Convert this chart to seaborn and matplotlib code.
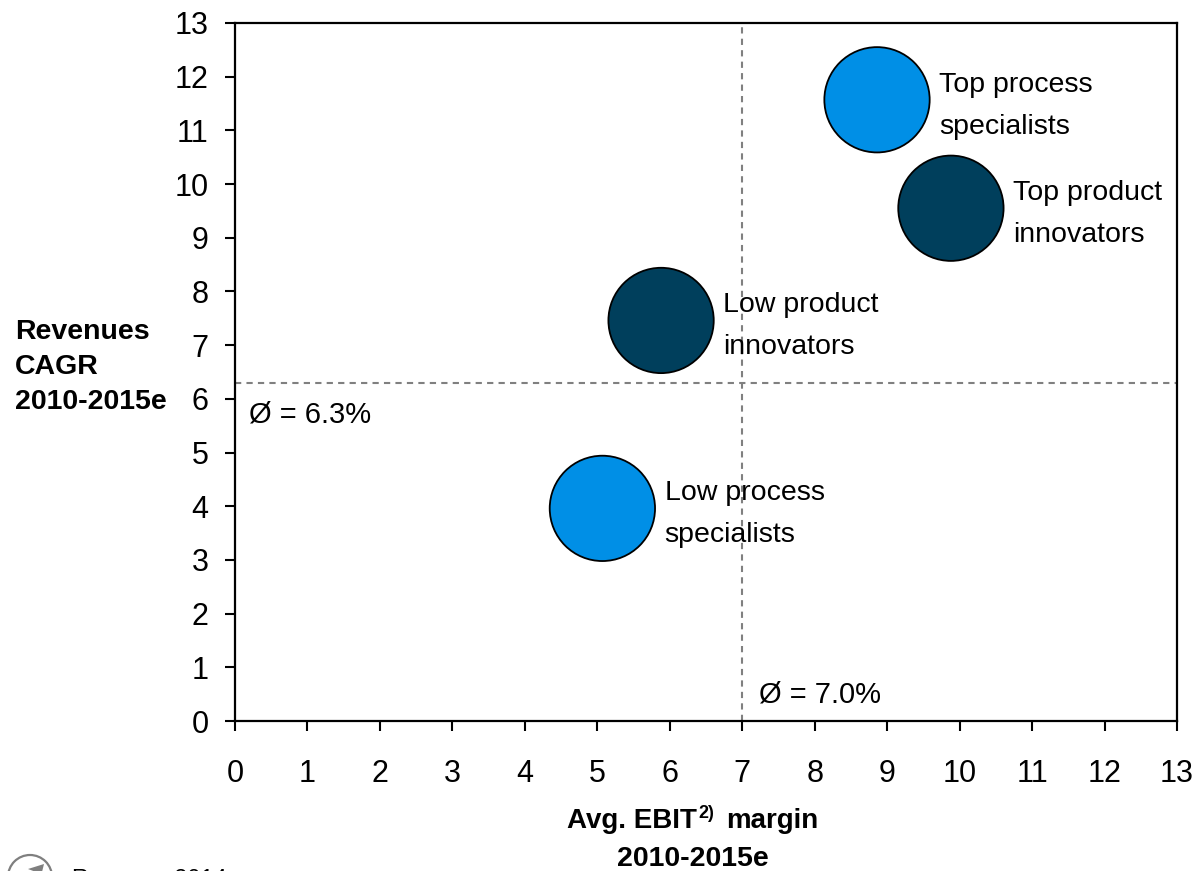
import matplotlib
matplotlib.use("Agg")
import matplotlib.pyplot as plt
import matplotlib.patches as mp
import pandas as pd
import seaborn as sns

names = ["Top process\nspecialists", "Top product\ninnovators", "Low product\ninnovators", "Low process\nspecialists"]
ebit = [8.86, 9.88, 5.88, 5.07]
cagr = [11.57, 9.55, 7.46, 3.96]
groups = ["process", "product", "product", "process"]
ticks = list(range(14))
avg_x = 7.0
avg_y = 6.3
palette = {"process": "#008FE6", "product": "#003F5C"}

sns.set_theme(style="white")
plt.rcParams["font.family"] = ["Liberation Sans", "DejaVu Sans"]
plt.rcParams["text.color"] = "black"
plt.rcParams["xtick.labelcolor"] = "black"
plt.rcParams["ytick.labelcolor"] = "black"
W, H = 1192, 871
fig = plt.figure(figsize=(W/100, H/100), dpi=100)
ax = fig.add_axes([235/W, 1-721/H, (1177-235)/W, (721-23)/H])
df = pd.DataFrame({"x": ebit, "y": cagr, "g": groups})
sns.scatterplot(data=df, x="x", y="y", hue="g", palette=palette, s=5750, edgecolor="black", linewidth=1.3, legend=False, ax=ax, zorder=3, clip_on=False)
ax.set_xlim(0, 13); ax.set_ylim(0, 13)
ax.set_xticks(ticks); ax.set_yticks(ticks)
ax.tick_params(axis="both", length=7, width=1.5, color="black", direction="out", labelsize=22, bottom=True, left=True, top=False, right=False)
ax.tick_params(axis="x", pad=20)
ax.tick_params(axis="y", pad=12)
for s in ax.spines.values():
    s.set_visible(True); s.set_color("black"); s.set_linewidth(1.6)
ax.set_xlabel(""); ax.set_ylabel("")
ax.axvline(avg_x, color="#808080", ls=(0, (3, 2.5)), lw=1.5, zorder=1)
ax.axhline(avg_y, color="#808080", ls=(0, (3, 2.5)), lw=1.5, zorder=1)
for n, x, y in zip(names, ebit, cagr):
    ax.text(x + 0.86, y - 0.11, n, fontsize=20.5, va="center", ha="left", linespacing=1.8, zorder=4)
ax.text(0.2, 5.7, "Ø = 6.3%", fontsize=21, va="center")
ax.text(7.23, 0.5, "Ø = 7.0%", fontsize=21, va="center")
fig.text(15/W, 1-367/H, "Revenues\nCAGR\n2010-2015e", fontsize=20.5, fontweight="bold", va="center", ha="left", linespacing=1.47)
fig.text(567/W, 1-821/H, "Avg. EBIT", fontsize=20, fontweight="bold", va="center", ha="left")
fig.text(698/W, 1-813/H, "2)", fontsize=13, fontweight="bold", va="center", ha="left")
fig.text(726/W, 1-821/H, "margin", fontsize=20, fontweight="bold", va="center", ha="left")
fig.text(693/W, 1-859/H, "2010-2015e", fontsize=20.5, fontweight="bold", va="center", ha="center")
fig.text(72/W, 1-880/H, "Roquem, 2014", fontsize=17, va="center", ha="left")
fig.add_artist(mp.Ellipse((30/W, 1-877/H), 44/W, 44/H, transform=fig.transFigure, fill=False, edgecolor="#7f7f7f", lw=1.6))
fig.add_artist(mp.Polygon([(44/W, 1-864/H), (28/W, 1-869/H), (36/W, 1-872/H), (42/W, 1-872/H)], closed=True, transform=fig.transFigure, facecolor="#7f7f7f", edgecolor="none"))
fig.savefig("out.png", dpi=100)
